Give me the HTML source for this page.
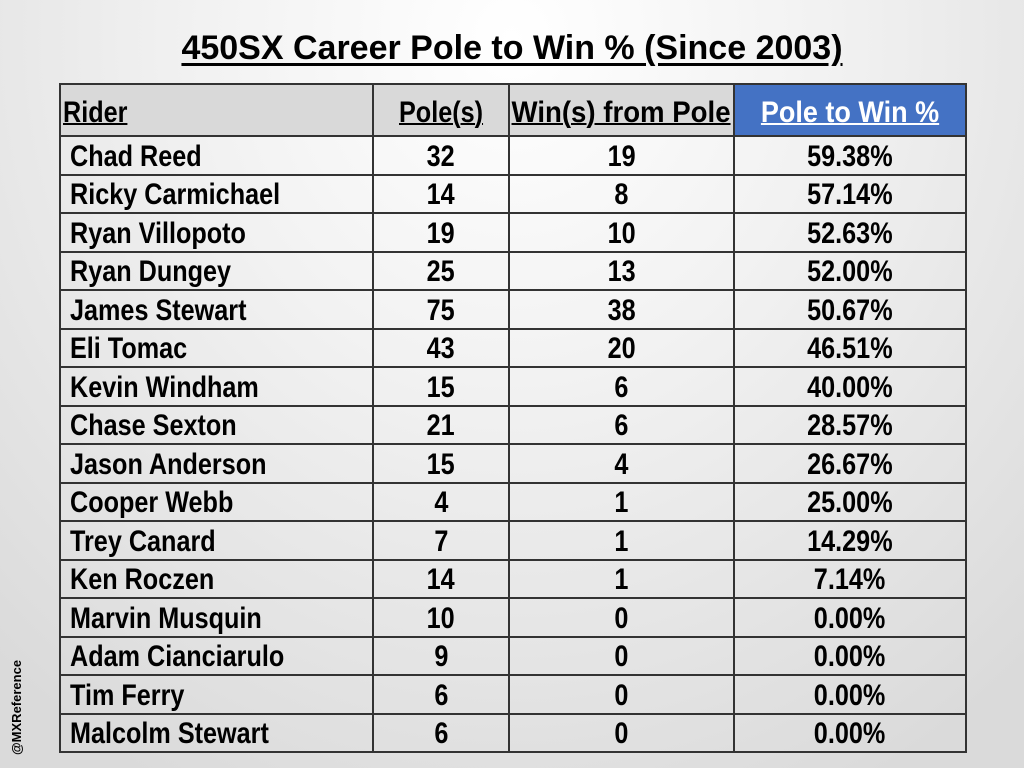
<!DOCTYPE html>
<html><head><meta charset="utf-8"><style>
body{margin:0;width:1024px;height:768px;overflow:hidden;position:relative;
background:radial-gradient(ellipse 75% 110% at 50% 5%,#ffffff 0%,#f2f2f2 40%,#dadada 100%);
font-family:"Liberation Sans",sans-serif;}
.title{position:absolute;left:0;width:1024px;top:29px;text-align:center;font-weight:bold;font-size:34px;text-decoration:underline;text-decoration-thickness:3px;text-underline-offset:4px;color:#000}
table{position:absolute;left:59px;top:83px;border-collapse:collapse;table-layout:fixed;width:908px;font-weight:bold;font-size:30px;color:#000}
td{border:2px solid #333;padding:3px 0 0 0;line-height:1;white-space:nowrap;overflow:visible}
td span{display:inline-block;transform:scaleX(0.84);}
td.n span{transform-origin:0 50%}
tr{height:38.5px}
tr.h{height:52px}
tr.h td{background:#d9d9d9;vertical-align:bottom;padding-bottom:7px}
tr.h td span{text-decoration:underline;text-decoration-thickness:2px}
tr.h td.b{background:#4472c4;color:#fff}
td.n{padding-left:9px}
tr.h td.n{padding-left:2px}
td.c{text-align:center}
.wm{position:absolute;left:9px;top:755px;transform:rotate(-90deg);transform-origin:0 0;font-weight:bold;font-size:13px;color:#000;white-space:nowrap}
</style></head><body>
<div class="title">450SX Career Pole to Win % (Since 2003)</div>
<table>
<colgroup><col style="width:313px"><col style="width:136px"><col style="width:225px"><col style="width:232px"></colgroup>
<tr class="h"><td class="n"><span>Rider</span></td><td class="c"><span>Pole(s)</span></td><td class="c"><span style="margin:0 -40px;transform:scaleX(0.92)">Win(s) from Pole</span></td><td class="c b"><span style="transform:scaleX(0.9)">Pole to Win %</span></td></tr>
<tr><td class="n"><span>Chad Reed</span></td><td class="c"><span>32</span></td><td class="c"><span>19</span></td><td class="c"><span>59.38%</span></td></tr>
<tr><td class="n"><span>Ricky Carmichael</span></td><td class="c"><span>14</span></td><td class="c"><span>8</span></td><td class="c"><span>57.14%</span></td></tr>
<tr><td class="n"><span>Ryan Villopoto</span></td><td class="c"><span>19</span></td><td class="c"><span>10</span></td><td class="c"><span>52.63%</span></td></tr>
<tr><td class="n"><span>Ryan Dungey</span></td><td class="c"><span>25</span></td><td class="c"><span>13</span></td><td class="c"><span>52.00%</span></td></tr>
<tr><td class="n"><span>James Stewart</span></td><td class="c"><span>75</span></td><td class="c"><span>38</span></td><td class="c"><span>50.67%</span></td></tr>
<tr><td class="n"><span>Eli Tomac</span></td><td class="c"><span>43</span></td><td class="c"><span>20</span></td><td class="c"><span>46.51%</span></td></tr>
<tr><td class="n"><span>Kevin Windham</span></td><td class="c"><span>15</span></td><td class="c"><span>6</span></td><td class="c"><span>40.00%</span></td></tr>
<tr><td class="n"><span>Chase Sexton</span></td><td class="c"><span>21</span></td><td class="c"><span>6</span></td><td class="c"><span>28.57%</span></td></tr>
<tr><td class="n"><span>Jason Anderson</span></td><td class="c"><span>15</span></td><td class="c"><span>4</span></td><td class="c"><span>26.67%</span></td></tr>
<tr><td class="n"><span>Cooper Webb</span></td><td class="c"><span>4</span></td><td class="c"><span>1</span></td><td class="c"><span>25.00%</span></td></tr>
<tr><td class="n"><span>Trey Canard</span></td><td class="c"><span>7</span></td><td class="c"><span>1</span></td><td class="c"><span>14.29%</span></td></tr>
<tr><td class="n"><span>Ken Roczen</span></td><td class="c"><span>14</span></td><td class="c"><span>1</span></td><td class="c"><span>7.14%</span></td></tr>
<tr><td class="n"><span>Marvin Musquin</span></td><td class="c"><span>10</span></td><td class="c"><span>0</span></td><td class="c"><span>0.00%</span></td></tr>
<tr><td class="n"><span>Adam Cianciarulo</span></td><td class="c"><span>9</span></td><td class="c"><span>0</span></td><td class="c"><span>0.00%</span></td></tr>
<tr><td class="n"><span>Tim Ferry</span></td><td class="c"><span>6</span></td><td class="c"><span>0</span></td><td class="c"><span>0.00%</span></td></tr>
<tr><td class="n"><span>Malcolm Stewart</span></td><td class="c"><span>6</span></td><td class="c"><span>0</span></td><td class="c"><span>0.00%</span></td></tr>
</table>
<div class="wm">@MXReference</div>
</body></html>
